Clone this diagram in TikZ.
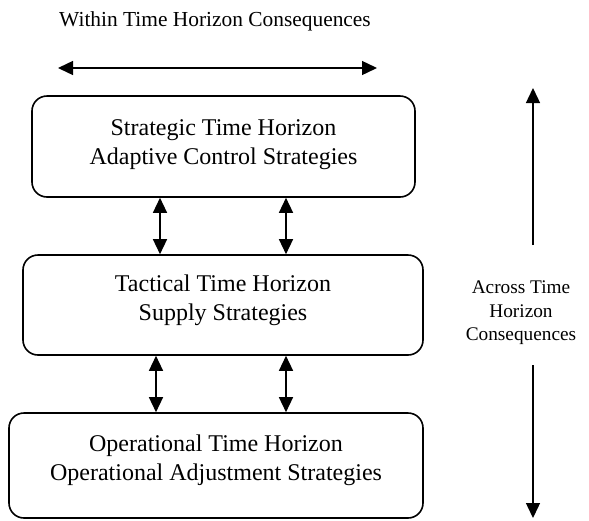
\documentclass[tikz,border=0pt]{standalone}
\usepackage{fontspec}
\setmainfont{Liberation Serif}
\usetikzlibrary{arrows.meta}
\begin{document}
\begin{tikzpicture}[x=1pt,y=-1pt,
  hbox/.style={draw, line width=1.6pt, rounded corners=15pt, align=center,
    inner sep=0pt, font=\fontsize{24}{28.5}\selectfont},
  lbl/.style={align=center, inner sep=0pt, font=\fontsize{19.3}{23.5}\selectfont},
  conn/.style={line width=1.4pt, {Triangle[length=15pt,width=14pt]}-{Triangle[length=15pt,width=14pt]}},
  sarr/.style={line width=1.4pt, -{Triangle[length=15pt,width=14pt]}}]
\useasboundingbox (0,0) rectangle (589,520);
% title
\node[lbl, font=\fontsize{21.4}{24}\selectfont] (title) at (215,21) {Within Time Horizon Consequences};
\coordinate (hl) at (58,68);
\coordinate (hr) at (377,68);
\draw[conn] (hl) -- (hr);
% boxes
\node[hbox, minimum width=383pt, minimum height=101pt] (b1) at (223.5,146.5)
  {Strategic Time Horizon\\Adaptive Control Strategies\rule[-9pt]{0pt}{0pt}};
\node[hbox, minimum width=400pt, minimum height=100pt] (b2) at (223,305)
  {Tactical Time Horizon\\Supply Strategies\rule[-15pt]{0pt}{0pt}};
\node[hbox, minimum width=414pt, minimum height=105pt] (b3) at (216,465.5)
  {Operational Time Horizon\\Operational Adjustment Strategies\rule[-16pt]{0pt}{0pt}};
% connectors between boxes
\coordinate (c1) at (160,0);
\coordinate (c2) at (286,0);
\coordinate (c3) at (156,0);
\draw[conn] (b1.south -| c1) -- (b2.north -| c1);
\draw[conn] (b1.south -| c2) -- (b2.north -| c2);
\draw[conn] (b2.south -| c3) -- (b3.north -| c3);
\draw[conn] (b2.south -| c2) -- (b3.north -| c2);
% right side
\node[lbl] (across) at (521,313) {Across Time\\Horizon\\Consequences};
\coordinate (rt) at (533,88);
\coordinate (rm1) at (533,245);
\coordinate (rm2) at (533,365);
\coordinate (rb) at (533,518);
\draw[sarr] (rm1) -- (rt);
\draw[sarr] (rm2) -- (rb);
\end{tikzpicture}
\end{document}
